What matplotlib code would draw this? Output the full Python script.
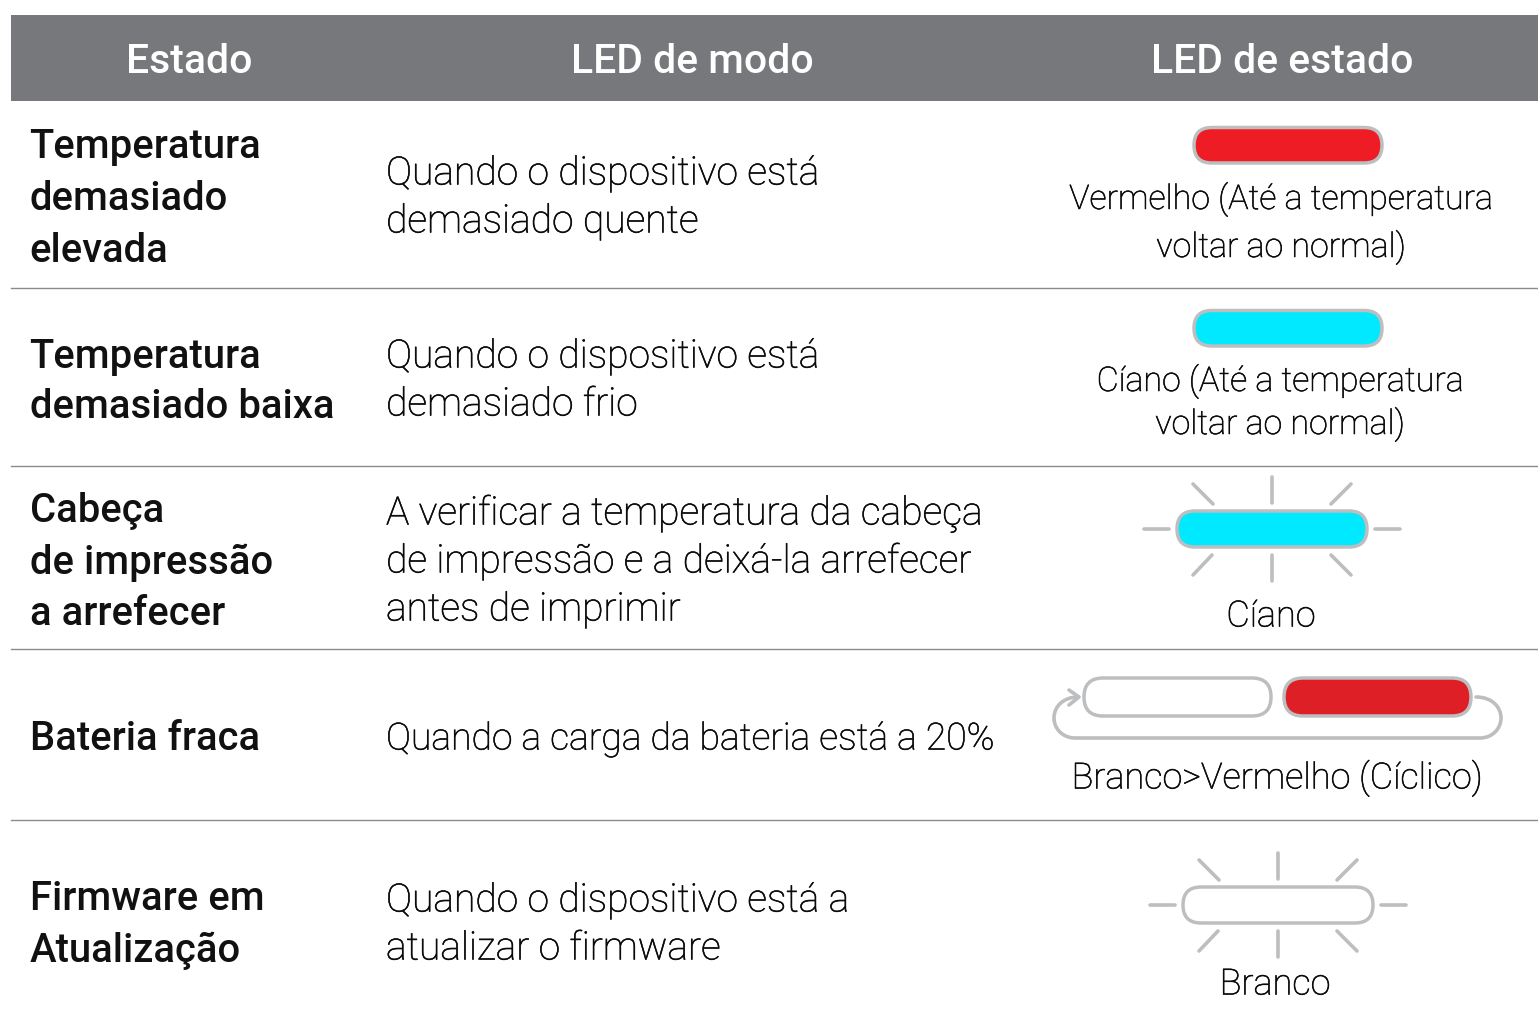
import matplotlib
matplotlib.use('Agg')
import matplotlib.pyplot as plt
import matplotlib.patheffects as pe
from matplotlib.patches import FancyBboxPatch, Rectangle, PathPatch
from matplotlib.path import Path

headers = ['Estado', 'LED de modo', 'LED de estado']
states = ['Temperatura\ndemasiado\nelevada', 'Temperatura\ndemasiado baixa',
          'Cabeça\nde impressão\na arrefecer', 'Bateria fraca', 'Firmware em\nAtualização']
modes = ['Quando o dispositivo está\ndemasiado quente', 'Quando o dispositivo está\ndemasiado frio',
         'A verificar a temperatura da cabeça\nde impressão e a deixá-la arrefecer\nantes de imprimir',
         'Quando a carga da bateria está a 20%', 'Quando o dispositivo está a\natualizar o firmware']
status = ['Vermelho (Até a temperatura', 'voltar ao normal)', 'Cíano (Até a temperatura', 'Cíano',
          'Branco>Vermelho (Cíclico)', 'Branco']
RED, RED2, CYAN, EDGE = '#ee1c25', '#de1f26', '#00e9ff', '#bcbec0'
FONT = 'Roboto'

fig = plt.figure(figsize=(15.38, 10.14), dpi=100)
ax = fig.add_axes([0, 0, 1, 1])
ax.set_xlim(0, 1538); ax.set_ylim(1014, 0); ax.axis('off')


def txt(x, y, s, size=28.1, weight='light', color='#0a0a0a', ha='left'):
    t = ax.text(x, y, s, fontsize=size, fontweight=weight, color=color, ha=ha, va='baseline', family=FONT)
    if weight == 'light':
        t.set_path_effects([pe.withStroke(linewidth=0.4, foreground=color)])


def lines(x, ys, s, **kw):
    for y, t in zip(ys, s.split('\n')):
        txt(x, y, t, **kw)


def pill(x0, y0, x1, y1, fc='white', lw=2.5):
    h = y1 - y0
    ax.add_patch(FancyBboxPatch((x0, y0), x1 - x0, h, boxstyle=f'round,pad=0,rounding_size={h/2}',
                                fc=fc, ec=EDGE, lw=lw, zorder=3))


def rays(cx, cy):
    segs = [(-128, 0, -103, 0), (103, 0, 128, 0), (0, -52, 0, -26), (0, 26, 0, 52),
            (-79, -45, -59, -25), (79, -45, 59, -25), (-79, 46, -60, 26), (79, 46, 59, 26)]
    for a, b, c, d in segs:
        ax.plot([cx + a, cx + c], [cy + b, cy + d], color=EDGE, lw=2.6, solid_capstyle='round')


# header
ax.add_patch(Rectangle((11, 15), 1527, 86, fc='#77787b', ec='none'))
H = dict(size=29.4, weight='medium', color='white', ha='center')
txt(189, 73, headers[0], **H)
txt(692, 73, headers[1], **H)
txt(1282, 73, headers[2], **H)

# separators
for y in [288, 466, 649, 820]:
    ax.plot([11, 1538], [y, y], color='#8a8b8d', lw=1.0)

# first column
B = dict(size=28.8, weight='medium', color='#111111')
lines(29.5, [158.5, 209.5, 261.5], states[0], **B)
lines(29.5, [367.5, 418.5], states[1], **B)
lines(29.5, [522, 574, 625], states[2], **B)
lines(29.5, [750.5], states[3], **B)
lines(29.5, [910.5, 962.5], states[4], **B)

# second column
lines(386, [184.5, 232.5], modes[0])
lines(386, [367.5, 415.5], modes[1])
lines(386, [524.5, 572.5, 620.5], modes[2])
lines(386, [749.5], modes[3], size=26.9)
lines(386, [911.5, 959.5], modes[4])

# third column
pill(1194, 127.5, 1382, 163, RED)
txt(1281, 209, status[0], size=24.5, ha='center')
txt(1281, 257, status[1], size=24.5, ha='center')
pill(1194, 310.5, 1382, 346, CYAN)
txt(1280, 391, status[2], size=24.5, ha='center')
txt(1280, 434, status[1], size=24.5, ha='center')
rays(1272, 529)
pill(1177, 511, 1367, 547, CYAN)
txt(1271, 626.5, status[3], size=26, ha='center')
pill(1084, 678, 1271, 716)
pill(1284, 678, 1471, 716, RED2)
cycle = Path([(1476, 697), (1492, 697), (1501, 707), (1501, 718), (1501, 729), (1492, 738), (1480, 738),
              (1075, 738), (1063, 738), (1054, 729), (1054, 718), (1054, 706), (1064, 697), (1078, 697)],
             [Path.MOVETO, Path.CURVE4, Path.CURVE4, Path.CURVE4, Path.CURVE4, Path.CURVE4, Path.CURVE4,
              Path.LINETO, Path.CURVE4, Path.CURVE4, Path.CURVE4, Path.CURVE4, Path.CURVE4, Path.CURVE4])
ax.add_patch(PathPatch(cycle, fc='none', ec=EDGE, lw=2.6, capstyle='round'))
ax.plot([1069, 1079, 1069], [690, 697, 705], color=EDGE, lw=2.6, solid_capstyle='round')
txt(1277, 788.5, status[4], size=26, ha='center')
rays(1278, 905)
pill(1183, 887, 1373, 923)
txt(1275, 994.5, status[5], size=26, ha='center')

fig.savefig('out.png', dpi=100, facecolor='white')
